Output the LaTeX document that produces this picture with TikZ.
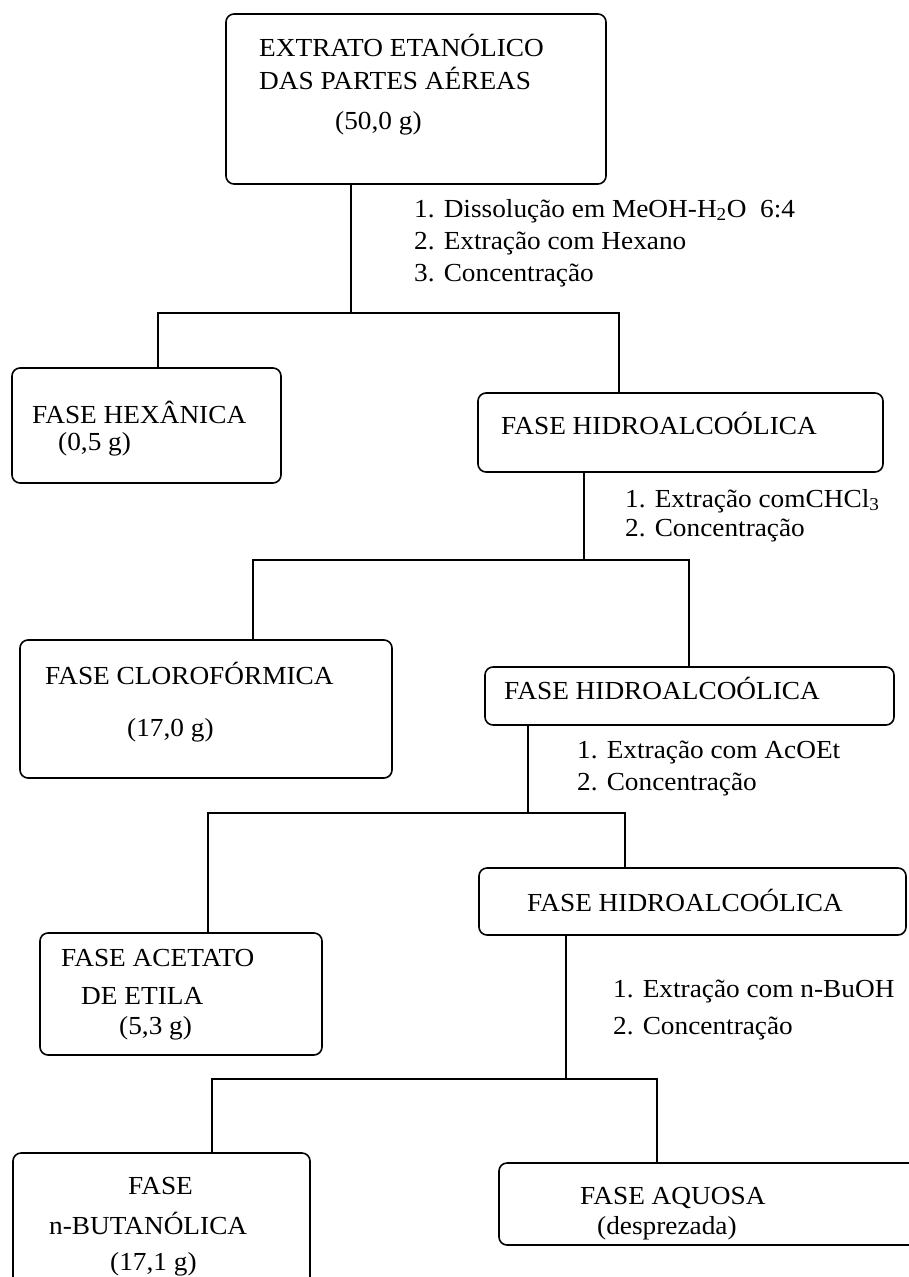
\documentclass[tikz,border=0pt]{standalone}
\usepackage{fontspec}
\setmainfont[FakeStretch=1.05]{Liberation Serif}
\begin{document}
\begin{tikzpicture}[x=1pt,y=1pt,
  box/.style={draw, line width=1.6pt, rounded corners=8pt, inner sep=0pt},
  txt/.style={anchor=base west, inner sep=0pt, font=\fontsize{26}{30}\selectfont},
  link/.style={line width=1.5pt}]
\useasboundingbox (0,0) rectangle (909,-1277);
% boxes
\node[box, minimum width=380pt, minimum height=170pt] (top) at (416,-99) {};
\node[box, minimum width=269pt, minimum height=115pt] (hex) at (146.5,-425.5) {};
\node[box, minimum width=405pt, minimum height=79pt] (hid1) at (680.5,-432.5) {};
\node[box, minimum width=372pt, minimum height=138pt] (clo) at (206,-709) {};
\node[box, minimum width=409pt, minimum height=58pt] (hid2) at (689.5,-696) {};
\node[box, minimum width=282pt, minimum height=122pt] (ace) at (181,-994) {};
\node[box, minimum width=427pt, minimum height=67pt] (hid3) at (692.5,-901.5) {};
\node[box, minimum width=297pt, minimum height=150pt] (but) at (161.5,-1228) {};
\node[box, minimum width=430pt, minimum height=82pt] (aq) at (714,-1204) {};
% texts in boxes
\node[txt] (t1a) at (259,-56) {EXTRATO ETANÓLICO};
\node[txt] (t1b) at (259,-89) {DAS PARTES AÉREAS};
\node[txt] (t1c) at (335,-129) {(50,0 g)};
\node[txt] (t2a) at (32,-423) {FASE HEXÂNICA};
\node[txt] (t2b) at (58,-450) {(0,5 g)};
\node[txt] (t3a) at (501,-434) {FASE HIDROALCOÓLICA};
\node[txt] (t4a) at (45,-684) {FASE CLOROFÓRMICA};
\node[txt] (t4b) at (127,-736) {(17,0 g)};
\node[txt] (t5a) at (504,-699) {FASE HIDROALCOÓLICA};
\node[txt] (t6a) at (61,-966) {FASE ACETATO};
\node[txt] (t6b) at (81,-1004) {DE ETILA};
\node[txt] (t6c) at (119,-1034) {(5,3 g)};
\node[txt] (t7a) at (527,-911) {FASE HIDROALCOÓLICA};
\node[txt] (t8a) at (128,-1194) {FASE};
\node[txt] (t8b) at (49,-1234) {n-BUTANÓLICA};
\node[txt] (t8c) at (110,-1270) {(17,1 g)};
\node[txt] (t9a) at (580,-1204) {FASE AQUOSA};
\node[txt] (t9b) at (597,-1234) {(desprezada)};
% step texts
\node[txt] (s1a) at (414,-217) {1. Dissolução em MeOH-H\textsubscript{2}O\ \ 6:4};
\node[txt] (s1b) at (414,-249) {2. Extração com Hexano};
\node[txt] (s1c) at (414,-281) {3. Concentração};
\node[txt] (s2a) at (625,-507) {1. Extração comCHCl\textsubscript{3}};
\node[txt] (s2b) at (625,-536) {2. Concentração};
\node[txt] (s3a) at (577,-758) {1. Extração com AcOEt};
\node[txt] (s3b) at (577,-790) {2. Concentração};
\node[txt] (s4a) at (613,-997) {1. Extração com n-BuOH};
\node[txt] (s4b) at (613,-1034) {2. Concentração};
% junctions
\coordinate (j1) at (351,-313);
\coordinate (j2) at (584,-560);
\coordinate (j3) at (528,-813);
\coordinate (j4) at (566,-1079);
% connectors
\draw[link] (top.south -| j1) -- (j1);
\draw[link] (hex.north -| 158,0) |- (j1) -| (hid1.north -| 619,0);
\draw[link] (hid1.south -| j2) -- (j2);
\draw[link] (clo.north -| 253,0) |- (j2) -| (hid2.north -| 689,0);
\draw[link] (hid2.south -| j3) -- (j3);
\draw[link] (ace.north -| 208,0) |- (j3) -| (hid3.north -| 625,0);
\draw[link] (hid3.south -| j4) -- (j4);
\draw[link] (but.north -| 212,0) |- (j4) -| (aq.north -| 657,0);
\end{tikzpicture}
\end{document}
